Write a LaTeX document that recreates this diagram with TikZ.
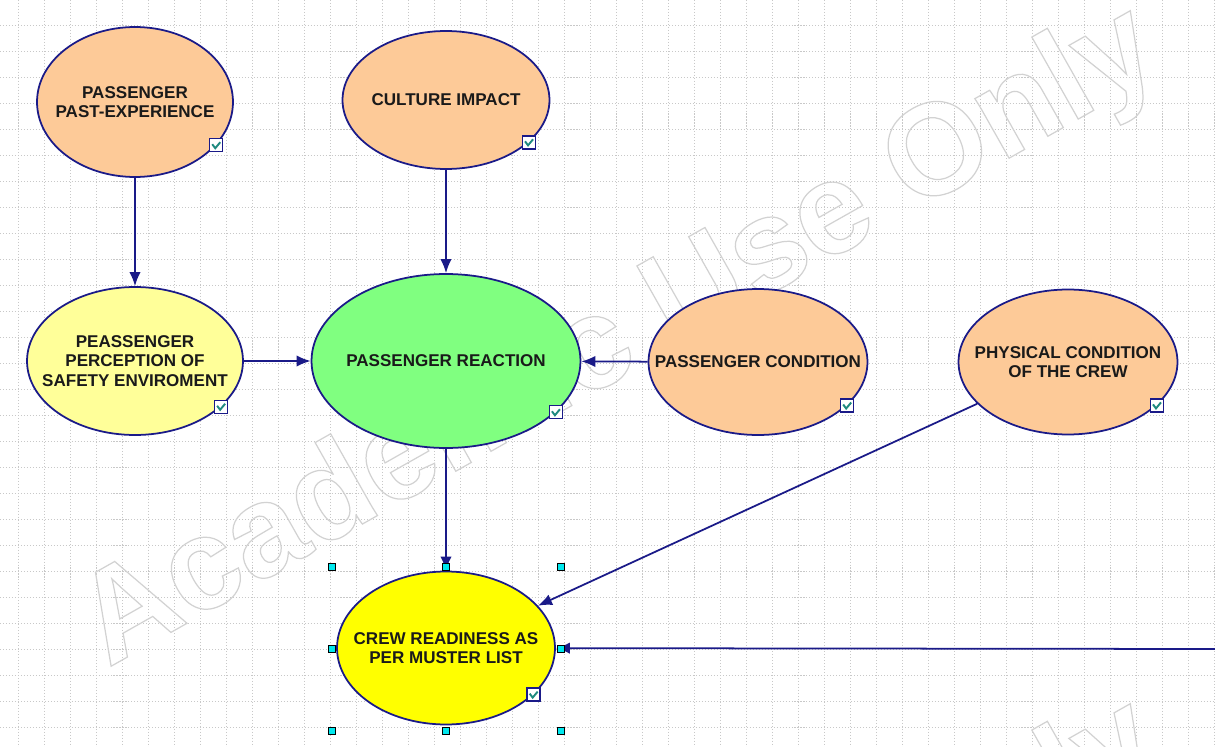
\documentclass[tikz,border=0pt]{standalone}
\usepackage{fontspec}
\setmainfont{Liberation Sans}
\usetikzlibrary{shapes.geometric,arrows.meta,positioning}

\definecolor{navy}{HTML}{1A1A88}
\definecolor{peach}{HTML}{FDCA98}
\definecolor{paleyellow}{HTML}{FFFF99}
\definecolor{mintgreen}{HTML}{80FF80}
\definecolor{brightyellow}{HTML}{FFFF00}
\definecolor{checkteal}{HTML}{1F8A80}
\definecolor{handlecyan}{HTML}{00E8EE}
\definecolor{gridgray}{HTML}{C8C8C8}
\definecolor{wmgray}{HTML}{D2D2D2}

\newcommand\bnlabel{\fontsize{9.7}{11.2}\selectfont\bfseries\color[HTML]{1A1A1A}}
\newcommand\wmfont{\fontsize{74}{74}\selectfont\bfseries}
\newcommand\outlined[1]{\special{pdf:literal direct 1 Tr 0.7 w}#1\special{pdf:literal direct 0 Tr}}

\begin{document}
\begin{tikzpicture}[x=0.02cm, y=-0.02cm,
  every node/.style={inner sep=0pt},
  var/.style={ellipse, draw=navy, line width=1pt},
  varlabel/.style={align=center, font=\bnlabel},
  link/.style={draw=navy, line width=1pt, -{Latex[length=8pt,width=6.5pt]}},
  checkbox/.style={rectangle, draw=navy, fill=white, line width=0.8pt, minimum size=0.26cm,
    path picture={\draw[checkteal, line width=1.1pt]
      ([shift={(-4,-1)}]path picture bounding box.center) --
      ([shift={(-1,3)}]path picture bounding box.center) --
      ([shift={(4,-3)}]path picture bounding box.center);}},
  handle/.style={rectangle, draw=black, fill=handlecyan, line width=0.5pt, minimum size=0.15cm},
  gridline/.style={draw=gridgray, line width=0.5pt, dash pattern=on 0.6pt off 1.1pt}]
  \useasboundingbox (0,0) rectangle (1215,747);

  % background grid and watermark
  \begin{scope}
    \clip (0,0) rectangle (1215,747);
    \foreach \gx in {0,...,46}
      \draw[gridline] ({18+26*\gx},0) -- ({18+26*\gx},747);
    \foreach \gy in {1,...,28}
      \draw[gridline] (0,{-1+26*\gy}) -- (1215,{-1+26*\gy});
    \foreach \wy [count=\w] in {0,693}
      \node[rotate=29.5, anchor=base west, text=wmgray, font=\wmfont] (watermark\w) at (108,{668+\wy})
        {\outlined{Academic Use Only}};
  \end{scope}

  \node[var, fill=peach, minimum width=3.92cm, minimum height=3.0cm] (past) at (135,102) {};
  \node[var, fill=peach, minimum width=4.14cm, minimum height=2.76cm] (culture) at (446,100) {};
  \node[var, fill=paleyellow, minimum width=4.32cm, minimum height=2.96cm] (perception) at (135,361) {};
  \node[var, fill=mintgreen, minimum width=5.38cm, minimum height=3.48cm] (reaction) at (446,361) {};
  \node[var, fill=peach, minimum width=4.38cm, minimum height=2.92cm] (condition) at (758,362) {};
  \node[var, fill=peach, minimum width=4.38cm, minimum height=2.9cm] (physical) at (1068,362) {};
  \node[var, fill=brightyellow, minimum width=4.36cm, minimum height=3.06cm] (crew) at (446,648) {};

  \node[varlabel] (pasttext) at (past) {PASSENGER\\PAST-EXPERIENCE};
  \node[varlabel] (culturetext) at (culture) {CULTURE IMPACT};
  \node[varlabel] (perceptiontext) at (perception) {PEASSENGER\\PERCEPTION OF\\SAFETY ENVIROMENT};
  \node[varlabel] (reactiontext) at (reaction) {PASSENGER REACTION};
  \node[varlabel] (conditiontext) at (condition) {PASSENGER CONDITION};
  \node[varlabel] (physicaltext) at (physical) {PHYSICAL CONDITION\\OF THE CREW};
  \node[varlabel] (crewtext) at (crew) {CREW READINESS AS\\PER MUSTER LIST};
  \coordinate (offright) at (1216,649);

  \draw[link] (past) -- (perception);
  \draw[link] (culture) -- (reaction);
  \draw[link] (perception) -- (reaction);
  \draw[link] (condition) -- (reaction);
  \draw[link] (reaction) -- (crew);
  \draw[link] (physical) -- (crew);
  \draw[link] (offright) -- (crew);

  \node[checkbox] (pastbox) at (past.-28) {};
  \node[checkbox] (culturebox) at (culture.-27) {};
  \node[checkbox] (perceptionbox) at (perception.-28) {};
  \node[checkbox] (reactionbox) at (reaction.-25) {};
  \node[checkbox] (conditionbox) at (condition.-26) {};
  \node[checkbox] (physicalbox) at (physical.-26) {};
  \node[checkbox] (crewbox) at (crew.-28) {};

  \foreach \hx/\hy [count=\k] in {332/567, 446/567, 561/567, 332/649, 561/649, 332/731, 446/731, 561/731}
    \node[handle] (handle\k) at (\hx,\hy) {};
\end{tikzpicture}
\end{document}
